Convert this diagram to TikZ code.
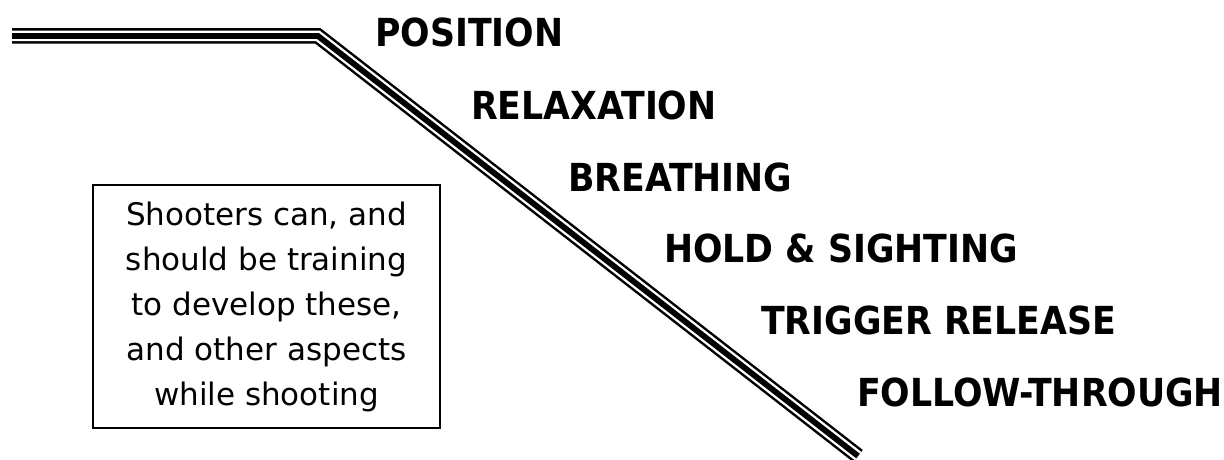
\documentclass[tikz,border=0pt]{standalone}
\usepackage{fontspec}
\setmainfont{DejaVu Sans Condensed}
\newfontfamily\notefont{DejaVu Sans}
\begin{document}
\begin{tikzpicture}[x=1pt,y=-1pt,
  lbl/.style={anchor=base west,inner sep=0pt,font=\fontsize{38.6}{40}\selectfont\bfseries},
  note/.style={draw,line width=1.5pt,align=center,inner sep=0pt,font=\notefont\fontsize{31}{45}\selectfont}]
\useasboundingbox (0,0) rectangle (1224,460);
\coordinate (s) at (12,36);
\coordinate (k) at (318,36);
\coordinate (e) at (858,456);
\draw[line width=15.5pt] (s) -- (k) -- (e);
\draw[line width=10.5pt,white] (s) -- (k) -- (e);
\draw[line width=5.8pt] (s) -- (k) -- (e);
\node[lbl] (p1) at (375,47) {POSITION};
\node[lbl] (p2) at (471,119) {RELAXATION};
\node[lbl] (p3) at (568,191) {BREATHING};
\node[lbl] (p4) at (664,262) {HOLD \& SIGHTING};
\node[lbl] (p5) at (761,334) {TRIGGER RELEASE};
\node[lbl] (p6) at (857,406) {FOLLOW-THROUGH};
\node[note,minimum width=347pt,minimum height=243pt] (box) at (266.5,306.5)
  {Shooters can, and\\should be training\\to develop these,\\and other aspects\\while shooting};
\end{tikzpicture}
\end{document}
